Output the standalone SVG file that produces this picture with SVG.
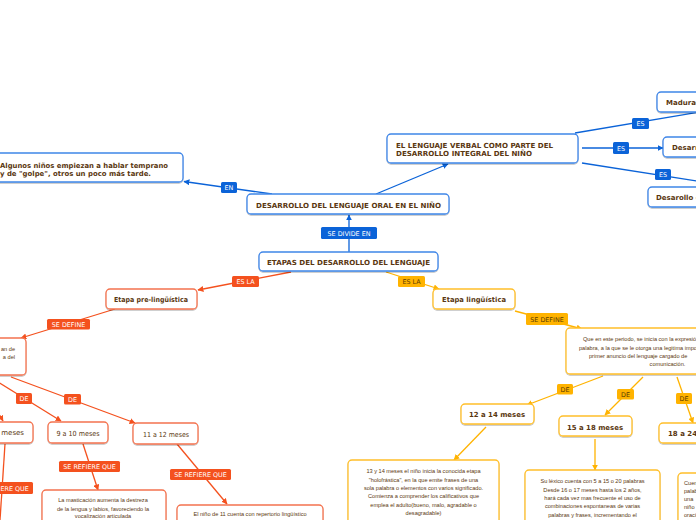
<svg xmlns="http://www.w3.org/2000/svg" width="696" height="520" viewBox="0 0 696 520">
<defs>
<style>
.bg{fill:#ffffff}
.nb{fill:#fff;stroke:#3f86e8;stroke-width:1.3}
.no{fill:#fff;stroke:#f4734f;stroke-width:1.3}
.ny{fill:#fff;stroke:#ffbf2a;stroke-width:1.3}
.t{font-family:"DejaVu Sans",Verdana,sans-serif;font-weight:bold;fill:#5a3710}
.tr{font-family:"DejaVu Sans",Verdana,sans-serif;fill:#5a3710}
.s{font-family:"Liberation Sans",Arial,sans-serif;font-size:5.6px;fill:#5a3710}
.lb{fill:#0b63d8}
.lo{fill:#f4511e}
.ly{fill:#ffb300}
.lt{font-family:"DejaVu Sans",Verdana,sans-serif;font-size:6.4px;fill:#fff;text-anchor:middle}
.lty{font-family:"DejaVu Sans",Verdana,sans-serif;font-size:6.4px;fill:#5a3a00;text-anchor:middle}
.cb{stroke:#0b63d8;stroke-width:1.3;fill:none}
.co{stroke:#f4511e;stroke-width:1.3;fill:none}
.cy{stroke:#ffb300;stroke-width:1.3;fill:none}
</style>
<marker id="ab" viewBox="0 0 10 10" refX="9" refY="5" markerWidth="6" markerHeight="6" orient="auto" markerUnits="userSpaceOnUse"><path d="M0,0 L10,5 L0,10 z" fill="#0b63d8"/></marker>
<marker id="ao" viewBox="0 0 10 10" refX="9" refY="5" markerWidth="6" markerHeight="6" orient="auto" markerUnits="userSpaceOnUse"><path d="M0,0 L10,5 L0,10 z" fill="#f4511e"/></marker>
<marker id="ay" viewBox="0 0 10 10" refX="9" refY="5" markerWidth="6" markerHeight="6" orient="auto" markerUnits="userSpaceOnUse"><path d="M0,0 L10,5 L0,10 z" fill="#ffb300"/></marker>
<filter id="sh" x="-10%" y="-20%" width="120%" height="150%"><feDropShadow dx="0" dy="1" stdDeviation="0.7" flood-color="#000" flood-opacity="0.25"/></filter>
</defs>
<rect class="bg" x="0" y="0" width="696" height="520"/>

<g id="connectors">
<path class="cb" d="M272,194 L184,181.5" marker-end="url(#ab)"/>
<path class="cb" d="M376,194 L448,164" marker-end="url(#ab)"/>
<path class="cb" d="M349,252 L349,215" marker-end="url(#ab)"/>
<path class="cb" d="M575,133 L700,112"/>
<path class="cb" d="M582,148 L663,148" marker-end="url(#ab)"/>
<path class="cb" d="M582,163 L710,183"/>
<path class="co" d="M291,272 L198,290" marker-end="url(#ao)"/>
<path class="co" d="M115,309 L21,338" marker-end="url(#ao)"/>
<path class="co" d="M-10,377 L61,421" marker-end="url(#ao)"/>
<path class="co" d="M11,377 L135,423" marker-end="url(#ao)"/>
<path class="co" d="M-8,402 L3,421" marker-end="url(#ao)"/>
<path class="co" d="M83,444 L98,490" marker-end="url(#ao)"/>
<path class="co" d="M177,444 L227,504" marker-end="url(#ao)"/>
<path class="co" d="M5,444 L0,520"/>
<path class="cy" d="M386,272 L439,289" marker-end="url(#ay)"/>
<path class="cy" d="M515,311 L582,329" marker-end="url(#ay)"/>
<path class="cy" d="M603,376 L527,405" marker-end="url(#ay)"/>
<path class="cy" d="M643,377 L605,415" marker-end="url(#ay)"/>
<path class="cy" d="M677,377 L693,423" marker-end="url(#ay)"/>
<path class="cy" d="M486,427 L454,460" marker-end="url(#ay)"/>
<path class="cy" d="M595,439 L595,470" marker-end="url(#ay)"/>

<rect class="lb" x="221" y="182" width="16" height="11" rx="1.5"/><text class="lt" x="229" y="190">EN</text>
<rect class="lb" x="321" y="227" width="56" height="12" rx="1.5"/><text class="lt" x="349" y="235.5">SE DIVIDE EN</text>
<rect class="lb" x="632" y="118" width="17" height="11" rx="1.5"/><text class="lt" x="640.5" y="126">ES</text>
<rect class="lb" x="613" y="142" width="16" height="12" rx="1.5"/><text class="lt" x="621" y="150.5">ES</text>
<rect class="lb" x="655" y="169" width="16" height="11" rx="1.5"/><text class="lt" x="663" y="177">ES</text>
<rect class="lo" x="232" y="276" width="27" height="11" rx="1.5"/><text class="lt" x="245.5" y="284">ES LA</text>
<rect class="lo" x="47" y="319" width="43" height="10.5" rx="1.5"/><text class="lt" x="68.5" y="326.7">SE DEFINE</text>
<rect class="lo" x="16" y="393" width="16" height="11" rx="1.5"/><text class="lt" x="24" y="401">DE</text>
<rect class="lo" x="64" y="394" width="17" height="10.5" rx="1.5"/><text class="lt" x="72.5" y="401.8">DE</text>
<rect class="lo" x="59" y="461" width="61" height="11" rx="1.5"/><text class="lt" x="89.5" y="469">SE REFIERE QUE</text>
<rect class="lo" x="170" y="469" width="61" height="11" rx="1.5"/><text class="lt" x="200.5" y="477">SE REFIERE QUE</text>
<rect class="lo" x="-28" y="482" width="61" height="12" rx="1.5"/><text class="lt" x="2.5" y="490.5">SE REFIERE QUE</text>
<rect class="ly" x="398" y="276" width="27" height="11" rx="1.5"/><text class="lty" x="411.5" y="284">ES LA</text>
<rect class="ly" x="526" y="313" width="42" height="12" rx="1.5"/><text class="lty" x="547" y="321.5">SE DEFINE</text>
<rect class="ly" x="557" y="384" width="16" height="10.5" rx="1.5"/><text class="lty" x="565" y="391.8">DE</text>
<rect class="ly" x="617" y="389" width="17" height="10.5" rx="1.5"/><text class="lty" x="625.5" y="396.8">DE</text>
<rect class="ly" x="676" y="393" width="16" height="11" rx="1.5"/><text class="lty" x="684" y="401">DE</text>
</g>

<g id="n-algunos"><rect class="nb" filter="url(#sh)" x="-20" y="153" width="203" height="29" rx="4"/>
<text class="t" font-size="7" x="0" y="167.5" textLength="168" lengthAdjust="spacingAndGlyphs">Algunos niños empiezan a hablar temprano</text>
<text class="t" font-size="7" x="0" y="175.5" textLength="151" lengthAdjust="spacingAndGlyphs">y de "golpe", otros un poco más tarde.</text></g>

<g id="n-verbal"><rect class="nb" filter="url(#sh)" x="387" y="134" width="191" height="29" rx="4"/>
<text class="t" font-size="7" x="396" y="148" textLength="157" lengthAdjust="spacingAndGlyphs">EL LENGUAJE VERBAL COMO PARTE DEL</text>
<text class="t" font-size="7" x="396" y="156" textLength="136" lengthAdjust="spacingAndGlyphs">DESARROLLO INTEGRAL DEL NIÑO</text></g>

<g id="n-maduracion"><rect class="nb" filter="url(#sh)" x="657" y="92" width="70" height="20" rx="4"/>
<text class="t" font-size="7" x="666" y="105">Maduración</text></g>
<g id="n-desarr"><rect class="nb" filter="url(#sh)" x="663" y="137" width="70" height="20" rx="4"/>
<text class="t" font-size="7" x="672" y="150">Desarrollo</text></g>
<g id="n-desarollo"><rect class="nb" filter="url(#sh)" x="648" y="187" width="80" height="20" rx="4"/>
<text class="t" font-size="7" x="656" y="200">Desarollo del</text></g>

<g id="n-desarrollo-oral"><rect class="nb" filter="url(#sh)" x="247" y="194" width="202" height="20" rx="4"/>
<text class="t" font-size="7" x="348.5" y="207.5" text-anchor="middle" textLength="185" lengthAdjust="spacingAndGlyphs">DESARROLLO DEL LENGUAJE ORAL EN EL NIÑO</text></g>

<g id="n-etapas"><rect class="nb" filter="url(#sh)" x="259" y="252" width="179" height="19" rx="4"/>
<text class="t" font-size="7" x="348.5" y="264.5" text-anchor="middle" textLength="163" lengthAdjust="spacingAndGlyphs">ETAPAS DEL DESARROLLO DEL LENGUAJE</text></g>

<g id="n-prelinguistica"><rect class="no" filter="url(#sh)" x="106" y="289" width="91" height="20" rx="4"/>
<text class="t" font-size="7" x="151" y="301.5" text-anchor="middle" textLength="74" lengthAdjust="spacingAndGlyphs">Etapa pre-lingüística</text></g>

<g id="n-left"><rect class="no" filter="url(#sh)" x="-60" y="338" width="86" height="37" rx="4"/>
<text class="s" x="15" y="350.5" text-anchor="end">an de</text>
<text class="s" x="15" y="358.5" text-anchor="end">a del</text></g>

<g id="n-8meses"><rect class="no" filter="url(#sh)" x="-30" y="422" width="63" height="21" rx="4"/>
<text class="tr" font-size="7" x="24" y="435" text-anchor="end">8 meses</text></g>

<g id="n-9a10"><rect class="no" filter="url(#sh)" x="48" y="422" width="60" height="21" rx="4"/>
<text class="tr" font-size="7" x="78" y="435.5" text-anchor="middle" textLength="43" lengthAdjust="spacingAndGlyphs">9 a 10 meses</text></g>

<g id="n-11a12"><rect class="no" filter="url(#sh)" x="133" y="423" width="65" height="21" rx="4"/>
<text class="tr" font-size="7" x="166" y="436.5" text-anchor="middle" textLength="46" lengthAdjust="spacingAndGlyphs">11 a 12 meses</text></g>

<g id="n-masticacion"><rect class="no" filter="url(#sh)" x="42" y="490" width="124" height="40" rx="4"/>
<text class="s" x="103" y="502" text-anchor="middle">La masticación aumenta la destreza</text>
<text class="s" x="103" y="510.5" text-anchor="middle">de la lengua  y labios, favoreciendo la</text>
<text class="s" x="103" y="518" text-anchor="middle">vocalización articulada</text></g>

<g id="n-nino11"><rect class="no" filter="url(#sh)" x="177" y="505" width="146" height="30" rx="4"/>
<text class="s" x="250" y="516" text-anchor="middle">El niño de 11 cuenta con repertorio lingüístico</text></g>

<g id="n-linguistica"><rect class="ny" filter="url(#sh)" x="433" y="289" width="82" height="20" rx="4"/>
<text class="t" font-size="7" x="474" y="301.5" text-anchor="middle" textLength="64" lengthAdjust="spacingAndGlyphs">Etapa lingüística</text></g>

<g id="n-que"><rect class="ny" filter="url(#sh)" x="566" y="328" width="204" height="46" rx="4"/>
<text class="s" x="583" y="341">Que en este periodo, se inicia con la expresión de la primera</text>
<text class="s" x="579" y="349.5">palabra, a la que se le otorga una legitima importancia</text>
<text class="s" x="589" y="357.5">primer anuncio del lenguaje cargado de</text>
<text class="s" x="667.5" y="366" text-anchor="middle">comunicación.</text></g>

<g id="n-12a14"><rect class="ny" filter="url(#sh)" x="461" y="404" width="73" height="20" rx="4"/>
<text class="t" font-size="7" x="497" y="416.5" text-anchor="middle" textLength="56" lengthAdjust="spacingAndGlyphs">12 a 14 meses</text></g>

<g id="n-15a18"><rect class="ny" filter="url(#sh)" x="559" y="416" width="73" height="20" rx="4"/>
<text class="t" font-size="7" x="595" y="429.5" text-anchor="middle" textLength="56" lengthAdjust="spacingAndGlyphs">15 a 18 meses</text></g>

<g id="n-18a24"><rect class="ny" filter="url(#sh)" x="659" y="423" width="73" height="20" rx="4"/>
<text class="t" font-size="7" x="668" y="435.5">18 a 24 meses</text></g>

<g id="n-13y14"><rect class="ny" filter="url(#sh)" x="348" y="460" width="151" height="70" rx="4"/>
<text class="s" x="423.5" y="473" text-anchor="middle">13 y 14 meses el niño inicia la conocida etapa</text>
<text class="s" x="423.5" y="481.5" text-anchor="middle">"holofrástica", en la que emite frases de una</text>
<text class="s" x="423.5" y="490" text-anchor="middle">sola palabra o elementos con varios significado.</text>
<text class="s" x="423.5" y="498" text-anchor="middle">Comienza a comprender los calificativos que</text>
<text class="s" x="423.5" y="507" text-anchor="middle">emplea el adulto(bueno, malo, agradable o</text>
<text class="s" x="423.5" y="515" text-anchor="middle">desagradable)</text></g>

<g id="n-lexico"><rect class="ny" filter="url(#sh)" x="525" y="470" width="135" height="60" rx="4"/>
<text class="s" x="592.5" y="483" text-anchor="middle">Su léxico cuenta con 5 a 15 o 20 palabras</text>
<text class="s" x="592.5" y="491.5" text-anchor="middle">Desde 16 o 17 meses hasta los 2 años,</text>
<text class="s" x="592.5" y="500" text-anchor="middle">hará cada vez mas frecuente el uso de</text>
<text class="s" x="592.5" y="508" text-anchor="middle">combinaciones espontaneas de varias</text>
<text class="s" x="592.5" y="517" text-anchor="middle">palabras y frases, incrementando el</text></g>

<g id="n-cue"><rect class="ny" filter="url(#sh)" x="678" y="473" width="70" height="60" rx="4"/>
<text class="s" x="684" y="485">Cuenta</text>
<text class="s" x="684" y="493">palabras</text>
<text class="s" x="684" y="501">una</text>
<text class="s" x="684" y="509">niño</text>
<text class="s" x="684" y="517">oraciones</text></g>
</svg>
